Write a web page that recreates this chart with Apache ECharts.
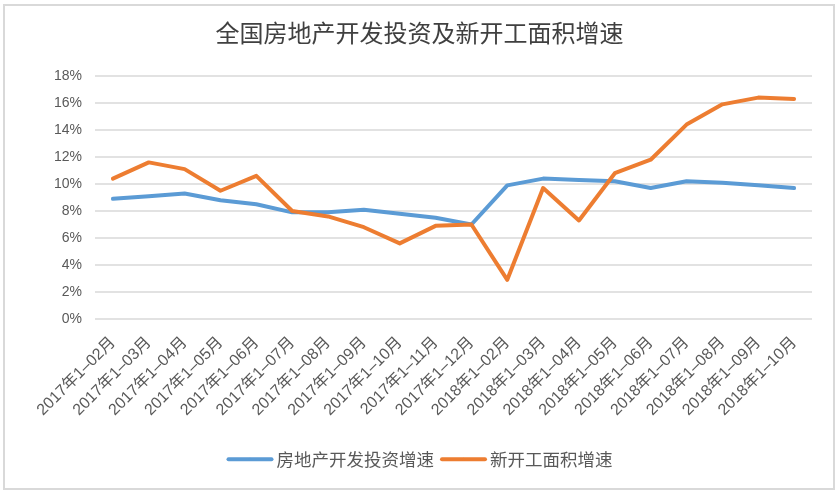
<!DOCTYPE html>
<html>
<head>
<meta charset="utf-8">
<script src="https://cdn.jsdelivr.net/npm/echarts@6/dist/echarts.min.js"></script>
<style>
html,body{margin:0;padding:0;background:#fff;}
#main{width:839px;height:496px;}
</style>
</head>
<body>
<div id="main"></div>
<script>
const categories = [
  "2017年1–02月","2017年1–03月","2017年1–04月","2017年1–05月","2017年1–06月",
  "2017年1–07月","2017年1–08月","2017年1–09月","2017年1–10月","2017年1–11月",
  "2017年1–12月","2018年1–02月","2018年1–03月","2018年1–04月","2018年1–05月",
  "2018年1–06月","2018年1–07月","2018年1–08月","2018年1–09月","2018年1–10月"
];
const investmentGrowth = [8.9, 9.1, 9.3, 8.8, 8.5, 7.9, 7.9, 8.1, 7.8, 7.5, 7.0, 9.9, 10.4, 10.3, 10.2, 9.7, 10.2, 10.1, 9.9, 9.7];
const newStartsGrowth = [10.4, 11.6, 11.1, 9.5, 10.6, 8.0, 7.6, 6.8, 5.6, 6.9, 7.0, 2.9, 9.7, 7.3, 10.8, 11.8, 14.4, 15.9, 16.4, 16.3];
const seriesNames = ["房地产开发投资增速", "新开工面积增速"];
const titleText = "全国房地产开发投资及新开工面积增速";

const chart = echarts.init(document.getElementById('main'), null, {renderer: 'canvas'});
const textFont = '"Liberation Sans", Arial, "Noto Sans CJK SC", sans-serif';
chart.setOption({
  animation: false,
  backgroundColor: '#ffffff',
  graphic: [{
    type: 'rect',
    shape: {x: 4, y: 5, width: 830, height: 484},
    style: {fill: 'none', stroke: '#d9d9d9', lineWidth: 2},
    silent: true
  }],
  title: {
    text: titleText,
    left: 'center',
    top: 16,
    textStyle: {
      fontFamily: '"Noto Sans CJK SC", sans-serif',
      fontSize: 24,
      fontWeight: 'normal',
      color: '#404040'
    }
  },
  legend: {
    data: seriesNames,
    bottom: 23,
    left: 'center',
    itemWidth: 43,
    itemHeight: 4,
    itemGap: 6,
    lineStyle: {width: 4, cap: 'round'},
    textStyle: {
      fontFamily: '"Noto Sans CJK SC", sans-serif',
      fontSize: 17.5,
      color: '#595959'
    }
  },
  grid: {
    left: 95,
    right: 27,
    top: 76,
    bottom: 177,
    containLabel: false
  },
  xAxis: {
    type: 'category',
    data: categories,
    boundaryGap: true,
    axisLine: {show: false},
    axisTick: {show: false},
    axisLabel: {
      rotate: 45,
      interval: 0,
      margin: 21,
      fontSize: 16,
      color: '#595959',
      fontFamily: textFont
    }
  },
  yAxis: {
    type: 'value',
    min: 0,
    max: 18,
    interval: 2,
    axisLine: {show: false},
    axisTick: {show: false},
    axisLabel: {
      formatter: '{value}%',
      margin: 13,
      fontSize: 14,
      color: '#595959',
      fontFamily: textFont
    },
    splitLine: {lineStyle: {color: '#d9d9d9', width: 1.5}}
  },
  series: [
    {
      name: seriesNames[0],
      type: 'line',
      data: investmentGrowth,
      symbol: 'none',
      color: '#5B9BD5',
      lineStyle: {width: 4, color: '#5B9BD5', cap: 'round', join: 'round'}
    },
    {
      name: seriesNames[1],
      type: 'line',
      data: newStartsGrowth,
      symbol: 'none',
      color: '#ED7D31',
      lineStyle: {width: 4, color: '#ED7D31', cap: 'round', join: 'round'}
    }
  ]
});
</script>
</body>
</html>
